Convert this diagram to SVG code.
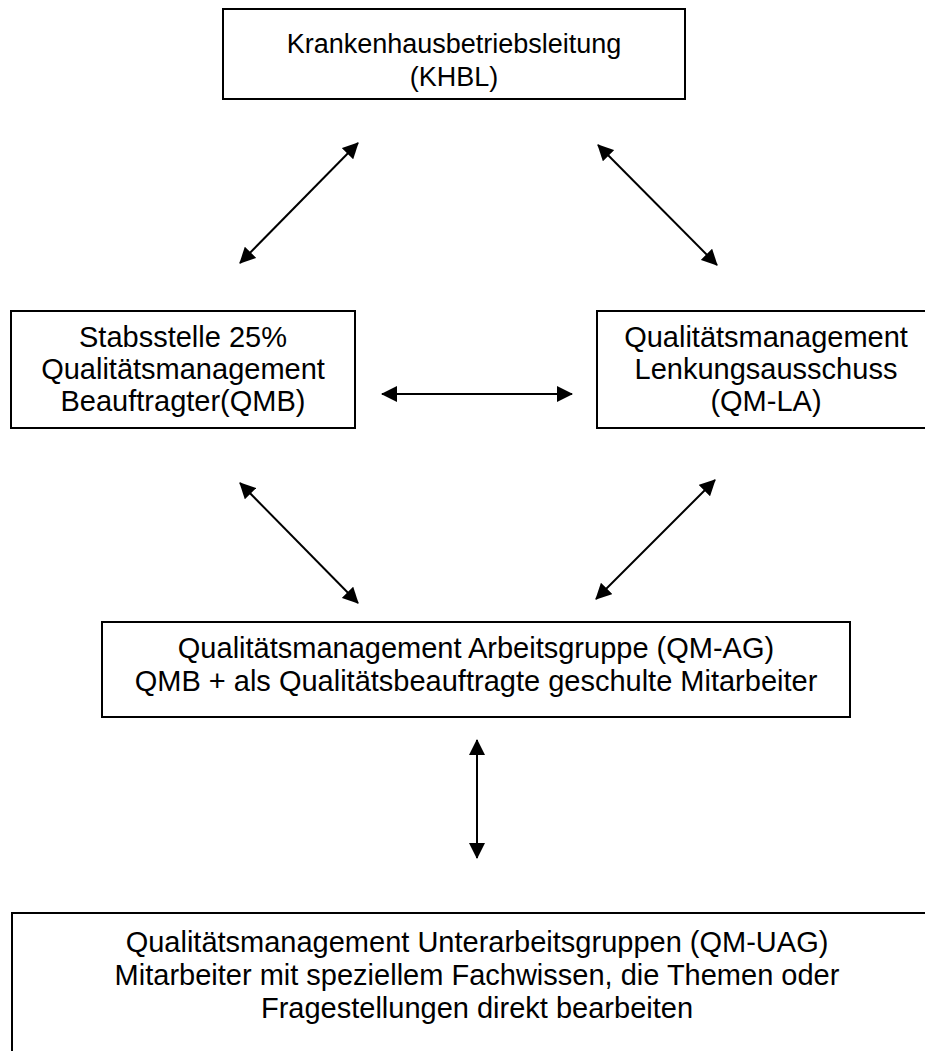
<svg xmlns="http://www.w3.org/2000/svg" width="925" height="1051" viewBox="0 0 925 1051">
<defs>
<style>
.box{fill:#fff;stroke:#000;stroke-width:2}
.t{font-family:"Liberation Sans",Arial,sans-serif;font-size:29px;fill:#000;text-anchor:middle}
.s27{font-size:27px}
.c{stroke:#000;stroke-width:2;fill:none;marker-start:url(#ah);marker-end:url(#ah)}
</style>
<marker id="ah" viewBox="0 0 16 16" refX="15" refY="8" markerWidth="16" markerHeight="16" markerUnits="userSpaceOnUse" orient="auto-start-reverse">
<path d="M0,0 L16,8 L0,16 z" fill="#000"/>
</marker>
</defs>
<rect width="925" height="1051" fill="#fff"/>
<g id="khbl">
<rect class="box" x="223" y="9" width="462" height="90"/>
<text class="t s27" x="454" y="53">Krankenhausbetriebsleitung</text>
<text class="t s27" x="454" y="86">(KHBL)</text>
</g>
<g id="qmb">
<rect class="box" x="11" y="311" width="344" height="117"/>
<text class="t" x="183" y="347">Stabsstelle 25%</text>
<text class="t" x="183" y="379">Qualitätsmanagement</text>
<text class="t" x="183" y="411">Beauftragter(QMB)</text>
</g>
<g id="qmla">
<rect class="box" x="597" y="311" width="340" height="117"/>
<text class="t" x="766" y="347">Qualitätsmanagement</text>
<text class="t" x="766" y="379">Lenkungsausschuss</text>
<text class="t" x="766" y="411">(QM-LA)</text>
</g>
<g id="qmag">
<rect class="box" x="102" y="622" width="748" height="95"/>
<text class="t" x="476" y="658">Qualitätsmanagement Arbeitsgruppe (QM-AG)</text>
<text class="t" x="476" y="691">QMB + als Qualitätsbeauftragte geschulte Mitarbeiter</text>
</g>
<g id="qmuag">
<rect class="box" x="12" y="913" width="930" height="160"/>
<text class="t" x="477" y="952">Qualitätsmanagement Unterarbeitsgruppen (QM-UAG)</text>
<text class="t" x="477" y="985">Mitarbeiter mit speziellem Fachwissen, die Themen oder</text>
<text class="t" x="477" y="1018">Fragestellungen direkt bearbeiten</text>
</g>
<g id="connectors">
<line class="c" x1="240" y1="263" x2="358" y2="143"/>
<line class="c" x1="598" y1="145" x2="717" y2="265"/>
<line class="c" x1="382" y1="394" x2="572" y2="394"/>
<line class="c" x1="240" y1="483" x2="358" y2="603"/>
<line class="c" x1="715" y1="480" x2="596" y2="599"/>
<line class="c" x1="477" y1="740" x2="477" y2="858"/>
</g>
</svg>
